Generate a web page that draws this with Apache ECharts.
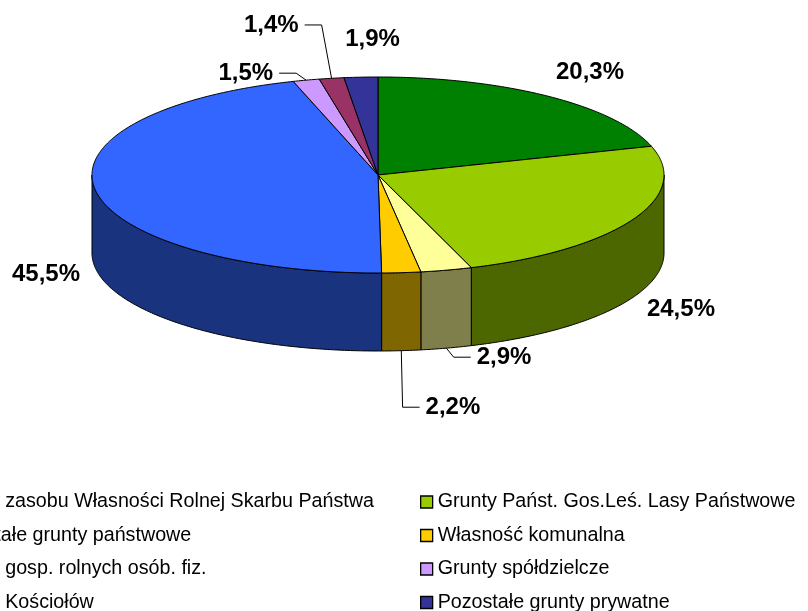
<!DOCTYPE html>
<html>
<head>
<meta charset="utf-8">
<script src="https://cdn.jsdelivr.net/npm/echarts@6/dist/echarts.min.js"></script>
<style>
html, body { margin: 0; padding: 0; background: #fff; }
#chart { width: 808px; height: 611px; }
</style>
</head>
<body>
<div id="chart"></div>
<script>
// land ownership shares, in %
var categories = [
    'Grunty zasobu Własności Rolnej Skarbu Państwa',
    'Grunty Państ. Gos.Leś. Lasy Państwowe',
    'Pozostałe grunty państwowe',
    'Własność komunalna',
    'Grunty gosp. rolnych osób. fiz.',
    'Grunty spółdzielcze',
    'Grunty Kościołów',
    'Pozostałe grunty prywatne'
];
var shares = [20.3, 24.5, 2.9, 2.2, 45.5, 1.5, 1.4, 1.9];

var colors = ['#008000', '#99CC00', '#FFFF99', '#FFCC00', '#3366FF', '#CC99FF', '#993366', '#333399'];
// hand-dragged label nudges (like in the excel original)
var labelShift = [[8, -8], [-3, 3], [44, -10], [47, 37], [7, 3], [-46, 12], [-51, -34], [15, -18]];

var FONT = '"Liberation Sans", Arial, sans-serif';
var cx = 378, cy = 175, rx = 286, ry = 98, depth = 78;

var total = shares.reduce(function (a, b) { return a + b; }, 0);
var starts = [];
var acc = 0;
shares.forEach(function (v) { starts.push(acc); acc += v; });

function darker(hex) {
    var n = parseInt(hex.slice(1), 16);
    var r = (n >> 16) >> 1, g = ((n >> 8) & 255) >> 1, b = (n & 255) >> 1;
    return 'rgb(' + r + ',' + g + ',' + b + ')';
}

function pt(a, dy) {
    return [cx + rx * Math.sin(a), cy - ry * Math.cos(a) + (dy || 0)];
}

function arc(a0, a1, dy) {
    var pts = [];
    var n = Math.max(2, Math.ceil(Math.abs(a1 - a0) / 0.01));
    for (var k = 0; k <= n; k++) {
        pts.push(pt(a0 + (a1 - a0) * k / n, dy));
    }
    return pts;
}

var measureCtx = document.createElement('canvas').getContext('2d');
measureCtx.font = 'bold 24px ' + FONT;

function renderSlice(params, api) {
    var i = params.seriesIndex;
    var v = api.value(0), start = api.value(1);
    var a0 = start / total * 2 * Math.PI;
    var a1 = (start + v) / total * 2 * Math.PI;
    var children = [];

    // front wall
    var lo = Math.max(a0, Math.PI / 2), hi = Math.min(a1, Math.PI * 1.5);
    if (lo < hi) {
        var side = arc(lo, hi, 0).concat(arc(hi, lo, depth));
        children.push({
            type: 'polygon',
            shape: { points: side },
            style: { fill: darker(colors[i]), stroke: '#000', lineWidth: 1 }
        });
    }

    // top face
    children.push({
        type: 'polygon',
        shape: { points: [[cx, cy]].concat(arc(a0, a1, 0)) },
        style: { fill: colors[i], stroke: '#000', lineWidth: 1 }
    });

    // label
    var am = (a0 + a1) / 2;
    var front = Math.cos(am) < 0;
    var lx = cx + 1.2 * rx * Math.sin(am) + labelShift[i][0];
    var ly = cy - 1.2 * ry * Math.cos(am) + (front ? depth : 0) + labelShift[i][1];
    var text = v.toFixed(1).replace('.', ',') + '%';
    children.push({
        type: 'text',
        x: lx, y: ly,
        style: {
            text: text, font: 'bold 24px ' + FONT, fill: '#000',
            align: 'center', verticalAlign: 'middle'
        }
    });

    if (Math.hypot(labelShift[i][0], labelShift[i][1]) > 30) {
        var anchor = pt(am, front ? depth : 0);
        var w = measureCtx.measureText(text).width;
        var dir = anchor[0] > lx ? 1 : -1;
        var p1 = [lx + dir * (w / 2 + 6), ly];
        var p2 = [p1[0] + dir * 17, ly];
        children.push({
            type: 'polyline',
            shape: { points: [p1, p2, anchor] },
            style: { fill: null, stroke: '#000', lineWidth: 1 }
        });
    }

    return { type: 'group', children: children };
}

var chart = echarts.init(document.getElementById('chart'));

var legendBase = {
    orient: 'vertical',
    top: 492,
    height: 160,
    padding: 0,
    icon: 'rect',
    itemWidth: 12,
    itemHeight: 12,
    itemGap: 13.5,
    selectedMode: false,
    itemStyle: { borderColor: '#000', borderWidth: 1.3 },
    textStyle: { fontFamily: FONT, fontSize: 19.7, color: '#000', lineHeight: 20 }
};

var option = {
    animation: false,
    backgroundColor: '#fff',
    legend: [
        Object.assign({}, legendBase, {
            left: -77,
            data: categories.filter(function (c, i) { return i % 2 === 0; })
        }),
        Object.assign({}, legendBase, {
            left: 420,
            data: categories.filter(function (c, i) { return i % 2 === 1; })
        })
    ],
    series: shares.map(function (v, i) {
        return {
            type: 'custom',
            name: categories[i],
            coordinateSystem: 'none',
            silent: true,
            itemStyle: { color: colors[i], borderColor: '#000', borderWidth: 1 },
            renderItem: renderSlice,
            data: [[v, starts[i]]]
        };
    })
};

option && chart.setOption(option);
</script>
</body>
</html>
